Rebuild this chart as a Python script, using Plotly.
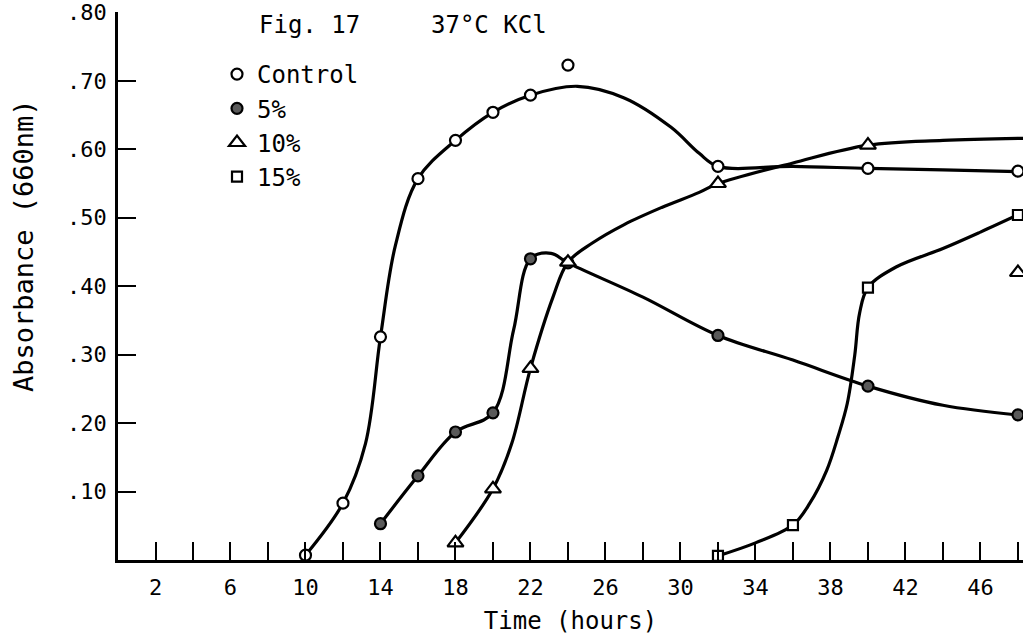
import plotly.graph_objects as go

# ---- measured data points (markers) ----
control_x = [10, 12, 14, 16, 18, 20, 22, 24, 32, 40, 48]
control_y = [0.007, 0.083, 0.326, 0.557, 0.613, 0.654, 0.679, 0.723, 0.575, 0.572, 0.568]
k5_x = [14, 16, 18, 20, 22, 24, 32, 40, 48]
k5_y = [0.053, 0.123, 0.187, 0.215, 0.440, 0.434, 0.328, 0.254, 0.212]
k10_x = [18, 20, 22, 24, 32, 40, 48]
k10_y = [0.025, 0.104, 0.280, 0.435, 0.550, 0.606, 0.420]
k15_x = [32, 36, 40, 48]
k15_y = [0.006, 0.051, 0.398, 0.504]

# ---- hand-drawn fitted curves ----
control_curve_x = [10, 12, 13.2, 14, 14.8, 16, 18, 20, 22, 24.5, 27, 29.5, 31, 32, 36, 40, 44, 48.3]
control_curve_y = [0.007, 0.083, 0.17, 0.326, 0.46, 0.557, 0.613, 0.654, 0.679, 0.692, 0.675, 0.632, 0.594, 0.575, 0.575, 0.572, 0.570, 0.567]
k5_curve_x = [14, 16, 18, 20, 21.1, 22, 23.1, 24, 28, 32, 36, 40, 44, 48.3]
k5_curve_y = [0.053, 0.123, 0.187, 0.215, 0.336, 0.44, 0.448, 0.434, 0.384, 0.328, 0.292, 0.254, 0.226, 0.211]
k10_curve_x = [18, 20, 21, 22, 23.2, 24, 25.3, 27, 29, 31, 32, 36, 40, 44, 48.3]
k10_curve_y = [0.025, 0.104, 0.17, 0.28, 0.384, 0.435, 0.463, 0.49, 0.515, 0.537, 0.55, 0.58, 0.606, 0.613, 0.616]
k15_curve_x = [32, 34, 36, 36.9, 37.8, 38.4, 38.9, 39.3, 39.55, 40, 41.5, 44, 46, 48.3]
k15_curve_y = [0.006, 0.025, 0.051, 0.083, 0.131, 0.18, 0.229, 0.30, 0.36, 0.398, 0.428, 0.455, 0.479, 0.508]

x_tick_vals = [2, 6, 10, 14, 18, 22, 26, 30, 34, 38, 42, 46]
x_tick_text = ["2", "6", "10", "14", "18", "22", "26", "30", "34", "38", "42", "46"]
y_tick_vals = [0.1, 0.2, 0.3, 0.4, 0.5, 0.6, 0.7, 0.8]
y_tick_text = [".10", ".20", ".30", ".40", ".50", ".60", ".70", ".80"]

W, H = 1023, 642
ML, MR, MT, MB = 118, 0, 12, 82
PW, PH = W - ML - MR, H - MT - MB
Y_TOP = 0.8


def px(xp):
    return (xp - ML) / PW


def py(yp):
    return (H - MB - yp) / PH


MONO = "DejaVu Sans Mono"

fig = go.Figure()

for cx, cy in [(control_curve_x, control_curve_y), (k5_curve_x, k5_curve_y),
               (k10_curve_x, k10_curve_y), (k15_curve_x, k15_curve_y)]:
    fig.add_trace(go.Scatter(x=cx, y=cy, mode="lines", showlegend=False,
                             hoverinfo="skip",
                             line=dict(color="black", width=3.2, shape="spline", smoothing=1.0)))

series = [
    ("Control", control_x, control_y, "circle", "white", 11),
    ("5%", k5_x, k5_y, "circle", "#5a5a5a", 11),
    ("10%", k10_x, k10_y, "triangle-up", "white", 14),
    ("15%", k15_x, k15_y, "square", "white", 10),
]
for name, xs, ys, sym, fill, size in series:
    fig.add_trace(go.Scatter(x=xs, y=ys, mode="markers", name=name,
                             cliponaxis=False,
                             marker=dict(symbol=sym, size=size, color=fill,
                                         line=dict(color="black", width=2.2))))

fig.add_annotation(text="Fig. 17", xref="paper", yref="paper", x=px(257), y=py(25),
                   xanchor="left", yanchor="middle", showarrow=False,
                   font=dict(family=MONO, size=24, color="black"))
fig.add_annotation(text="37°C KCl", xref="paper", yref="paper", x=px(429), y=py(25),
                   xanchor="left", yanchor="middle", showarrow=False,
                   font=dict(family=MONO, size=24, color="black"))
fig.add_annotation(text="Absorbance (660nm)", xref="paper", yref="paper", x=px(23), y=py(246),
                   xanchor="center", yanchor="middle", showarrow=False, textangle=-90,
                   font=dict(family=MONO, size=27, color="black"))

fig.update_layout(
    width=W, height=H,
    margin=dict(l=ML, r=MR, t=MT, b=MB),
    paper_bgcolor="white", plot_bgcolor="white",
    showlegend=True,
    legend=dict(x=px(217), y=py(52), xanchor="left", yanchor="top",
                bgcolor="rgba(0,0,0,0)", font=dict(family=MONO, size=24, color="black"),
                itemsizing="trace", tracegroupgap=0),
    xaxis=dict(range=[0, 48.27], showgrid=False, zeroline=False,
               showline=True, linecolor="black", linewidth=2.5,
               tickmode="array", tickvals=x_tick_vals, ticktext=x_tick_text,
               ticks="inside", ticklen=18, tickwidth=2, tickcolor="black",
               ticklabelstandoff=6,
               minor=dict(ticks="inside", ticklen=18, tickwidth=2, tickcolor="black",
                          tickmode="linear", tick0=0, dtick=2, showgrid=False),
               tickfont=dict(family=MONO, size=22, color="black"),
               title=dict(text="Time (hours)", font=dict(family=MONO, size=24, color="black"),
                          standoff=14)),
    yaxis=dict(range=[0, Y_TOP + 0.0005], showgrid=False, zeroline=False,
               showline=True, linecolor="black", linewidth=2.5,
               tickmode="array", tickvals=y_tick_vals, ticktext=y_tick_text,
               ticks="inside", ticklen=18, tickwidth=2, tickcolor="black",
               ticklabelstandoff=4,
               tickfont=dict(family=MONO, size=22, color="black")),
)

fig.write_html("out.html", config={"displayModeBar": False},
               post_script="document.body.style.margin='0';document.body.style.overflow='hidden';")
